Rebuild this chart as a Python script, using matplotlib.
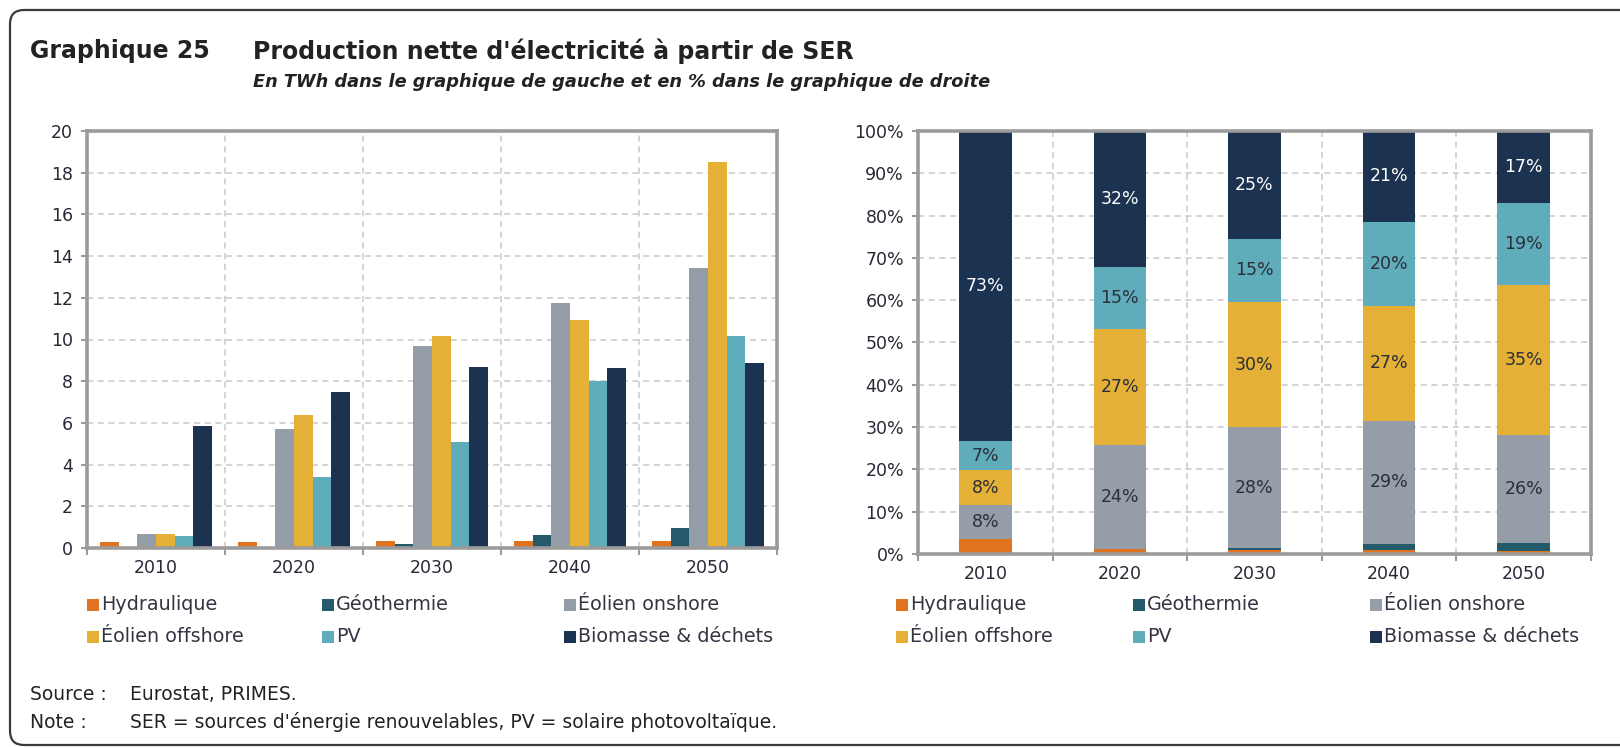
import numpy as np
import matplotlib
matplotlib.use('Agg')
import matplotlib.pyplot as plt
from matplotlib.patches import FancyBboxPatch, Rectangle
from matplotlib.transforms import IdentityTransform
from matplotlib.ticker import FixedLocator, NullFormatter, FuncFormatter

plt.rcParams['font.family'] = ['DejaVu Sans']

years = ['2010', '2020', '2030', '2040', '2050']
hydro = [0.28, 0.3, 0.32, 0.35, 0.35]
geo = [0.0, 0.0, 0.2, 0.6, 0.95]
onshore = [0.65, 5.7, 9.7, 11.75, 13.45]
offshore = [0.65, 6.4, 10.15, 10.95, 18.5]
pv = [0.56, 3.4, 5.1, 8.0, 10.15]
biomass = [5.85, 7.5, 8.7, 8.65, 8.85]

labels = ['Hydraulique', 'Géothermie', 'Éolien onshore',
          'Éolien offshore', 'PV', 'Biomasse & déchets']
colors = ['#E07320', '#245A6A', '#959DA8', '#E4B035', '#5FACBB', '#1B3250']
# which series get a % label in the right chart
show_pct = [False, False, True, True, True, True]

title = "Production nette d'électricité à partir de SER"
subtitle = "En TWh dans le graphique de gauche et en % dans le graphique de droite"

TXT = '#262a36'
GRID = '#c9c9c9'
SPINE = '#9b9b9b'

series = np.array([hydro, geo, onshore, offshore, pv, biomass])
shares = series / series.sum(axis=0) * 100

W, H = 1620, 748
fig = plt.figure(figsize=(W / 100, H / 100), dpi=100)


def px(x0, y0, w, h):
    # pixel box (top-left origin) -> figure fraction
    return [x0 / W, 1 - (y0 + h) / H, w / W, h / H]


def style_axes(ax, ymax, ystep):
    n = len(years)
    ax.set_xlim(-0.5, n - 0.5)
    ax.set_ylim(0, ymax)
    for s in ax.spines.values():
        s.set_color(SPINE)
        s.set_linewidth(2.6)
    ax.xaxis.set_major_locator(FixedLocator(np.arange(n + 1) - 0.5))
    ax.xaxis.set_major_formatter(NullFormatter())
    ax.xaxis.set_minor_locator(FixedLocator(np.arange(n)))
    ax.set_xticklabels(years, minor=True)
    ax.tick_params(axis='x', which='major', length=5, width=1.5, color=SPINE)
    ax.tick_params(axis='x', which='minor', length=0, pad=8, labelsize=12.5, labelcolor=TXT)
    ax.set_yticks(np.arange(0, ymax + ystep / 2, ystep))
    ax.tick_params(axis='y', length=4, width=1.5, color=SPINE, labelsize=12.5,
                   labelcolor=TXT, pad=6)
    ax.grid(True, which='major', color=GRID, linestyle=(0, (4, 3)), linewidth=1.1)
    ax.set_axisbelow(True)


# ---- left: grouped bars in TWh
ax1 = fig.add_axes(px(87, 131, 690, 417))
x = np.arange(len(years))
bw = 0.135
for i, (vals, c) in enumerate(zip(series, colors)):
    ax1.bar(x + (i - 2.5) * bw, vals, width=bw, color=c, edgecolor='none')
style_axes(ax1, 20, 2)

# ---- right: stacked shares in %
ax2 = fig.add_axes(px(918, 131, 673, 423))
bottom = np.zeros(len(years))
for i, (vals, c) in enumerate(zip(shares, colors)):
    ax2.bar(x, vals, width=0.39, bottom=bottom, color=c, edgecolor='none')
    if show_pct[i]:
        for j in range(len(years)):
            tc = 'white' if i == 5 else '#2b2f3a'
            ax2.text(x[j], bottom[j] + vals[j] / 2, '{:.0f}%'.format(vals[j]),
                     ha='center', va='center', fontsize=12.5, color=tc)
    bottom += vals
style_axes(ax2, 100, 10)
ax2.yaxis.set_major_formatter(FuncFormatter(lambda v, p: '{:.0f}%'.format(v)))

# ---- legends (two rows of three, under each chart)
def draw_legend(xcols, yrows):
    for k, (lab, c) in enumerate(zip(labels, colors)):
        xl = xcols[k % 3]
        yl = yrows[k // 3]
        fig.add_artist(Rectangle((xl, H - yl - 6), 12, 12, transform=IdentityTransform(),
                                 facecolor=c, edgecolor='none'))
        fig.text((xl + 14) / W, 1 - yl / H, lab, ha='left', va='center',
                 fontsize=13.8, color='#333642')

draw_legend([87, 322, 564], [605, 637])
draw_legend([896, 1133, 1370], [605, 637])

# ---- titles and notes
fig.text(30 / W, 1 - 51 / H, 'Graphique 25', fontsize=17, fontweight='bold',
         color='#222222', va='center')
fig.text(253 / W, 1 - 51 / H, title, fontsize=17, fontweight='bold',
         color='#222222', va='center')
fig.text(253 / W, 1 - 82 / H, subtitle, fontsize=12.8, fontweight='bold',
         fontstyle='italic', color='#222222', va='center')
fig.text(30 / W, 1 - 695 / H, 'Source :', fontsize=13.5, color='#222222', va='center')
fig.text(130 / W, 1 - 695 / H, 'Eurostat, PRIMES.', fontsize=13.5, color='#222222', va='center')
fig.text(30 / W, 1 - 722 / H, 'Note :', fontsize=13.5, color='#222222', va='center')
fig.text(130 / W, 1 - 722 / H,
         'SER = sources d\'énergie renouvelables, PV = solaire photovoltaïque.',
         fontsize=13.5, color='#222222', va='center')

# rounded frame, open on the right side
fig.add_artist(FancyBboxPatch((10, 3), 1700, H - 13, transform=IdentityTransform(),
                              boxstyle='round,pad=0,rounding_size=14',
                              facecolor='none', edgecolor='#3a3a3a', linewidth=1.6))

fig.savefig('out.png', dpi=100)
